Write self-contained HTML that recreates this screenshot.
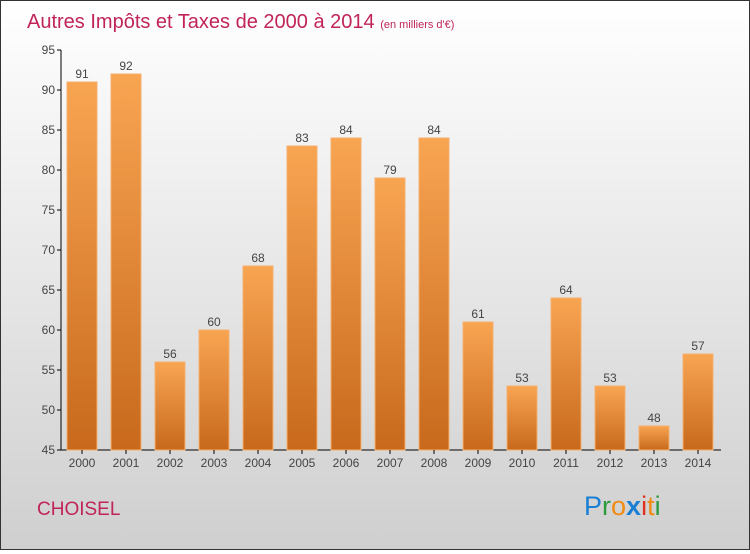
<!DOCTYPE html>
<html><head><meta charset="utf-8"><style>
html,body{margin:0;padding:0}
body{width:750px;height:550px;overflow:hidden;font-family:"Liberation Sans",sans-serif}
#wrap{position:absolute;left:0;top:0;width:748px;height:548px;border:1px solid #333;background:linear-gradient(#ffffff,#cfcfcf)}
</style></head><body>
<div id="wrap">
<svg id="chart" width="748" height="548">
<defs><linearGradient id="bg" x1="0" y1="0" x2="0" y2="1"><stop offset="0" stop-color="#f8a552"/><stop offset="1" stop-color="#c8691c"/></linearGradient></defs>
<text x="26" y="27" font-size="20" fill="#c0245a">Autres Impôts et Taxes de 2000 à 2014 <tspan font-size="11">(en milliers d'€)</tspan></text>
<g id="plot"></g>
<text x="36" y="514" font-size="19" fill="#c0245a">CHOISEL</text>
<text x="583" y="514" font-size="27"><tspan fill="#1a7fd4">P</tspan><tspan fill="#2e9a3e">r</tspan><tspan fill="#f08a10">o</tspan><tspan fill="#1a7fd4" font-weight="bold">x</tspan><tspan fill="#e03020">i</tspan><tspan fill="#f08a10">t</tspan><tspan fill="#2e9a3e">i</tspan></text>
</svg></div>
<script>
const categories=["2000","2001","2002","2003","2004","2005","2006","2007","2008","2009","2010","2011","2012","2013","2014"];
const values=[91,92,56,60,68,83,84,79,84,61,53,64,53,48,57];
const yTicks=[45,50,55,60,65,70,75,80,85,90,95];
const ns="http://www.w3.org/2000/svg";
const g=document.getElementById("plot");
const y=v=>450-(v-45)*8-1;
const x=i=>81+i*44;
function mk(t,a,p){const e=document.createElementNS(ns,t);for(const k in a)e.setAttribute(k,a[k]);(p||g).appendChild(e);return e;}
let ax=mk("line",{x1:60,y1:49,x2:60,y2:449,stroke:"#000"});


let bx=mk("line",{x1:60,y1:449,x2:720,y2:449,stroke:"#000"});


yTicks.forEach(v=>{
 mk("line",{x1:56,y1:y(v),x2:60,y2:y(v),stroke:"#000"});
 const t=mk("text",{x:54,y:y(v)+4,"text-anchor":"end","font-size":12,fill:"#444"});t.textContent=v;
 
 
});
categories.forEach((c,i)=>{
 const v=values[i];
 const r=mk("rect",{x:x(i)-15,y:y(v),width:30,height:449-y(v),fill:"url(#bg)",stroke:"#f5b070","stroke-width":1});
 
 
 const l=mk("text",{x:x(i),y:y(v)-4,"text-anchor":"middle","font-size":12,fill:"#444"});l.textContent=v;
 
 
 mk("line",{x1:x(i),y1:449,x2:x(i),y2:453,stroke:"#000"});
 const t=mk("text",{x:x(i),y:466,"text-anchor":"middle","font-size":12,fill:"#444"});t.textContent=c;
 
 
});
</script>
</body></html>
